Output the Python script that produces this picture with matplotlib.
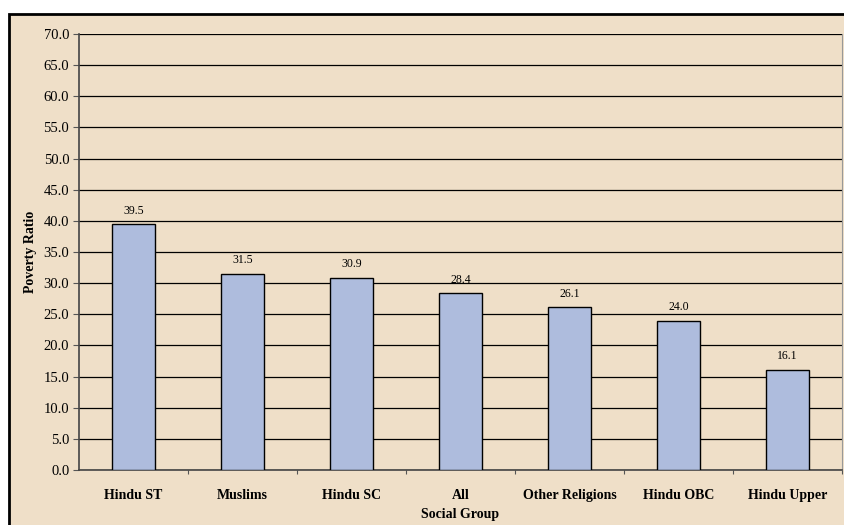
import matplotlib.pyplot as plt
from matplotlib.patches import Rectangle

groups = ["Hindu ST", "Muslims", "Hindu SC", "All", "Other Religions", "Hindu OBC", "Hindu Upper"]
poverty = [39.5, 31.5, 30.9, 28.4, 26.1, 24.0, 16.1]
yticks = [0, 5, 10, 15, 20, 25, 30, 35, 40, 45, 50, 55, 60, 65, 70]

bg = '#EFDFC8'
barcol = '#AEBCDD'

plt.rcParams['font.family'] = 'Liberation Serif'

fig = plt.figure(figsize=(8.44, 5.25), dpi=100)
fig.patch.set_facecolor('white')
# chart area frame, runs off the right and bottom
frame = Rectangle((0.0107, -0.05), 1.05, 0.9733 + 0.05, transform=fig.transFigure,
                  facecolor=bg, edgecolor='black', linewidth=2)
frame.set_zorder(-10)
fig.add_artist(frame)

ax = fig.add_axes([0.0936, 0.1048, 0.904, 0.8304])
ax.set_zorder(5)
ax.set_facecolor(bg)

x = range(len(groups))
ax.bar(x, poverty, width=0.4, color=barcol, edgecolor='black', linewidth=1, zorder=3)
for i, v in enumerate(poverty):
    ax.text(i, v + 1.2, f'{v:.1f}', ha='center', va='bottom', fontsize=8.5)

ax.set_ylim(0, 70)
ax.set_xlim(-0.5, len(groups) - 0.5)
ax.set_yticks(yticks)
ax.set_yticklabels([f'{t:.1f}' for t in yticks], fontsize=10.5)
ax.yaxis.grid(True, color='black', linewidth=0.9, zorder=0)
ax.set_axisbelow(True)

# category separators as major ticks, names on minor ticks
ax.set_xticks([i + 0.5 for i in range(len(groups) - 1)] + [len(groups) - 0.5])
ax.set_xticklabels([])
ax.set_xticks(list(x), minor=True)
ax.set_xticklabels(groups, minor=True, fontsize=10, fontweight='bold')
ax.tick_params(axis='x', which='minor', length=0, pad=14)
ax.tick_params(axis='x', which='major', length=3, direction='out', color='#555555')
ax.tick_params(axis='y', length=4, direction='out', color='#555555', pad=3)

ax.spines['top'].set_visible(False)
ax.spines['right'].set_color('#999999')
ax.spines['left'].set_color('#444444')
ax.spines['bottom'].set_color('#444444')
ax.spines['left'].set_linewidth(1.2)
ax.spines['bottom'].set_linewidth(1.2)

ax.set_xlabel('Social Group', fontsize=10, fontweight='bold', labelpad=4)
ax.set_ylabel('Poverty Ratio', fontsize=10, fontweight='bold', labelpad=5)

fig.savefig('out.png', dpi=100, facecolor=fig.get_facecolor())
